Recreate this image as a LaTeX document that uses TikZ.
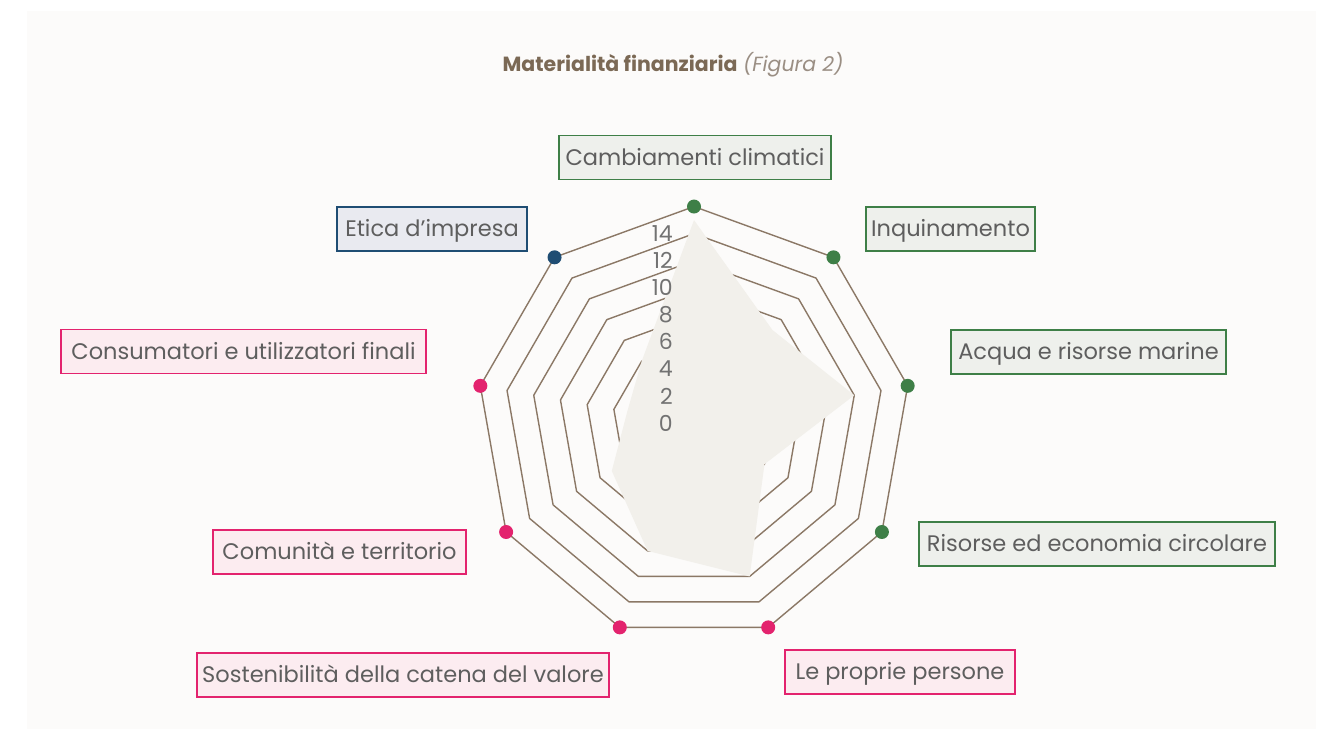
\documentclass[tikz,border=0pt]{standalone}
\usepackage{fontspec}
\setmainfont{Poppins}
\definecolor{panel}{HTML}{FCFBFA}
\definecolor{ringc}{HTML}{8B7866}
\definecolor{areac}{HTML}{F2F0EB}
\definecolor{gline}{HTML}{3E7F47}
\definecolor{gfill}{HTML}{EEF0EC}
\definecolor{pline}{HTML}{E3236E}
\definecolor{pfill}{HTML}{FCECF0}
\definecolor{bline}{HTML}{1F4D73}
\definecolor{bfill}{HTML}{E9EAF0}
\definecolor{txt}{HTML}{5E5E5E}
\definecolor{tickc}{HTML}{727272}
\definecolor{titleb}{HTML}{7B6955}
\definecolor{titlei}{HTML}{9A8E83}
\begin{document}
\begin{tikzpicture}[x=1pt,y=-1pt,
  ring/.style={draw=ringc,line width=1.4pt,line join=round},
  lbl/.style={rectangle,line width=1.8pt,minimum height=44pt,inner xsep=0pt,inner ysep=0pt,
    text height=15.6pt,text depth=0pt,
    text=txt,font=\fontsize{22.5}{26}\selectfont},
  glbl/.style={lbl,draw=gline,fill=gfill},
  plbl/.style={lbl,draw=pline,fill=pfill},
  blbl/.style={lbl,draw=bline,fill=bfill},
  dot/.style={circle,inner sep=0pt,minimum size=14pt},
  gdot/.style={dot,fill=gline},
  pdot/.style={dot,fill=pline},
  bdot/.style={dot,fill=bline},
  tick/.style={anchor=east,inner sep=0pt,text height=15.4pt,text depth=0pt,text=tickc,font=\fontsize{22}{24}\selectfont}
]
\useasboundingbox (0,0) rectangle (1319,731);
\fill[white] (0,0) rectangle (1319,731);
\fill[panel] (27,11) rectangle (1316,729);

% title
\node[anchor=center,font=\fontsize{20.5}{24}\selectfont] (title) at (673,65)
  {\textcolor{titleb}{\bfseries Materialità finanziaria} \textcolor{titlei}{\itshape(Figura 2)}};

\def\u{13.56}
\begin{scope}[shift={(694,423.5)}]
  % rings
  \foreach \v in {2,4,...,16}{
    \draw[ring] (-90:{\v*\u}) \foreach \k in {1,...,8}{ -- ({-90+40*\k}:{\v*\u}) } -- cycle;
  }
  % data points
  \foreach \val [count=\i from 0] in {15,9,12,6,12,10,7,5,6}{
    \coordinate (p\i) at ({-90+40*\i}:{\val*\u});
  }
  \fill[areac] (p0) -- (p1) -- (p2) -- (p3) -- (p4) -- (p5) -- (p6) -- (p7) -- (p8) -- cycle;
  % outer vertices
  \foreach \i in {0,...,8}{
    \coordinate (o\i) at ({-90+40*\i}:{16*\u});
  }
\end{scope}

% tick labels
\foreach \v in {0,2,...,14}{
  \node[tick] (t\v) at (673,{423.5-\v*\u}) {\v};
}

% dots
\node[gdot] (d0) at (o0) {};
\node[gdot] (d1) at (o1) {};
\node[gdot] (d2) at (o2) {};
\node[gdot] (d3) at (o3) {};
\node[pdot] (d4) at (o4) {};
\node[pdot] (d5) at (o5) {};
\node[pdot] (d6) at (o6) {};
\node[pdot] (d7) at (o7) {};
\node[bdot] (d8) at (o8) {};

% labels
\node[glbl,minimum width=272pt] (l0) at (695,157.5) {Cambiamenti climatici};
\node[glbl,minimum width=169pt] (l1) at (950.5,229) {Inquinamento};
\node[glbl,minimum width=275pt] (l2) at (1088.5,352) {Acqua e risorse marine};
\node[glbl,minimum width=356pt] (l3) at (1097,544) {Risorse ed economia circolare};
\node[plbl,minimum width=230pt] (l4) at (900,672) {Le proprie persone};
\node[plbl,minimum width=412pt] (l5) at (403,675) {Sostenibilità della catena del valore};
\node[plbl,minimum width=253pt] (l6) at (339.5,552) {Comunità e territorio};
\node[plbl,minimum width=365pt] (l7) at (243.5,351.5) {Consumatori e utilizzatori finali};
\node[blbl,minimum width=190pt] (l8) at (432,229) {Etica d’impresa};
\end{tikzpicture}
\end{document}
